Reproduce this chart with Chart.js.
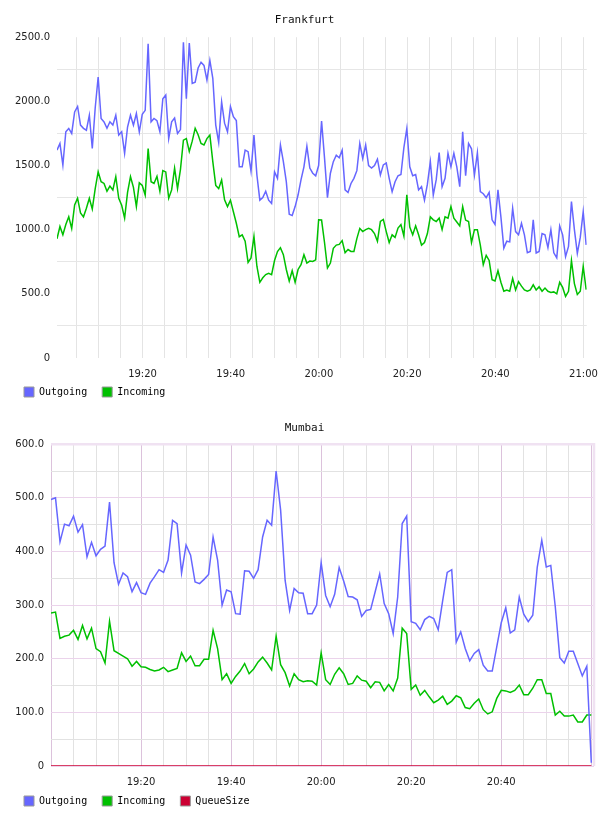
<!DOCTYPE html>
<html>
<head>
<meta charset="utf-8">
<title>Frankfurt / Mumbai</title>
<script src="https://cdn.jsdelivr.net/npm/chart.js@4.4.1/dist/chart.umd.min.js"></script>
<style>
  body{margin:0;background:#fff;}
  canvas{position:absolute;left:0;}
  #frankfurtChart{top:0;}
  #mumbaiChart{top:409px;}
</style>
</head>
<body>
<canvas id="frankfurtChart" width="608" height="407"></canvas>
<canvas id="mumbaiChart" width="608" height="407"></canvas>
<script>

// ---- data (minutes after 19:00) ----

const frankfurtStart = 0.6;
const frankfurtStep = 2 / 3;

const frankfurtOutgoing = [
  1620,1672,1504,1763,1789,1750,1918,1960,1815,1790,
  1775,1892,1633,1950,2190,1866,1840,1790,1841,1815,
  1892,1737,1763,1595,1800,1892,1815,1905,1763,1900,
  1930,2449,1841,1867,1850,1763,2020,2050,1711,1841,
  1870,1750,1780,2460,2020,2455,2140,2150,2260,2305,
  2280,2165,2320,2180,1815,1680,1996,1830,1763,1960,
  1880,1850,1491,1490,1620,1608,1455,1737,1426,1230,
  1250,1300,1230,1205,1450,1400,1660,1530,1374,1120,
  1110,1180,1270,1388,1490,1650,1480,1440,1420,1500,
  1846,1560,1250,1440,1530,1580,1560,1620,1310,1290,
  1360,1400,1460,1672,1555,1660,1500,1480,1500,1550,
  1426,1505,1520,1400,1295,1374,1420,1430,1640,1789,
  1490,1420,1430,1310,1335,1230,1355,1530,1270,1390,
  1600,1335,1400,1595,1490,1595,1490,1335,1763,1420,
  1672,1630,1426,1600,1297,1280,1250,1290,1077,1040,
  1310,1100,856,910,905,1167,985,960,1050,960,
  820,830,1077,818,830,970,960,860,1000,820,
  780,1030,960,790,870,1219,1000,815,940,1141,
  882
];

const frankfurtIncoming = [
  929,1025,960,1040,1100,1010,1193,1245,1130,1100,
  1167,1245,1160,1320,1452,1374,1360,1300,1340,1310,
  1413,1245,1190,1090,1290,1413,1330,1180,1365,1345,
  1270,1633,1374,1360,1415,1300,1460,1450,1245,1310,
  1480,1320,1470,1698,1710,1610,1690,1790,1740,1672,
  1660,1710,1737,1530,1345,1320,1388,1233,1180,1230,
  1140,1050,945,960,910,745,780,947,715,590,
  625,650,660,650,760,830,860,805,690,600,
  680,590,690,727,805,740,755,753,765,1077,
  1075,900,701,740,855,880,885,915,820,845,
  830,830,930,1010,985,1000,1010,1000,970,910,
  1064,1080,985,900,960,940,1012,1040,950,1271,
  1020,960,1030,960,880,900,970,1100,1077,1064,
  1090,1000,1100,1090,1180,1090,1060,1030,1180,1075,
  1064,900,1000,1000,880,727,800,760,610,600,
  680,590,520,530,520,620,530,595,560,530,
  520,530,570,530,555,520,545,520,510,515,
  500,590,550,480,520,760,580,495,520,714,
  533
];

const frankfurtTimeLabels = ["19:20","19:40","20:00","20:20","20:40","21:00"];

const mumbaiStart = 0;
const mumbaiStep = 1;

const mumbaiOutgoing = [
  497,500,418,451,448,466,436,450,390,417,
  392,404,410,492,379,339,360,353,325,342,
  323,320,341,353,366,361,384,458,452,360,
  412,393,343,340,348,357,427,384,300,328,
  325,284,283,364,363,350,366,427,458,449,
  550,477,346,290,331,323,322,284,284,300,
  379,318,297,320,370,345,316,315,310,279,
  290,292,325,358,303,284,247,315,452,466,
  269,266,254,273,279,275,254,309,361,366,
  231,250,219,196,210,217,188,177,177,222,
  267,295,248,254,315,283,269,281,371,421,
  371,374,297,202,192,214,214,191,168,186,
  6
];

const mumbaiIncoming = [
  285,287,238,242,244,253,236,262,237,257,
  219,213,192,270,215,210,205,200,186,195,
  185,184,180,177,179,184,176,179,182,211,
  195,205,187,187,199,199,253,219,161,172,
  154,167,177,191,172,181,194,203,192,179,
  242,189,174,149,172,161,157,159,158,151,
  211,161,152,171,183,172,152,154,168,160,
  158,146,157,156,140,152,140,164,257,247,
  143,151,132,141,129,118,123,130,115,121,
  131,127,109,107,117,125,105,97,101,126,
  141,140,137,141,151,133,133,145,161,161,
  135,135,95,102,93,93,95,82,82,95,
  95
];

const mumbaiQueueSize = [
  0,0,0,0,0,0,0,0,0,0,
  0,0,0,0,0,0,0,0,0,0,
  0,0,0,0,0,0,0,0,0,0,
  0,0,0,0,0,0,0,0,0,0,
  0,0,0,0,0,0,0,0,0,0,
  0,0,0,0,0,0,0,0,0,0,
  0,0,0,0,0,0,0,0,0,0,
  0,0,0,0,0,0,0,0,0,0,
  0,0,0,0,0,0,0,0,0,0,
  0,0,0,0,0,0,0,0,0,0,
  0,0,0,0,0,0,0,0,0,0,
  0,0,0,0,0,0,0,0,0,0,
  0
];

const mumbaiTimeLabels = ["19:20","19:40","20:00","20:20","20:40"];

// ---- helpers ----

Chart.defaults.font.family = "'DejaVu Sans', sans-serif";
Chart.defaults.font.size = 10;
Chart.defaults.color = '#222';

function toPoints(values, start, step){
  return values.map((v,i) => ({ x: start + i * step, y: v }));
}

function clock(min){
  const h = 19 + Math.floor(min / 60);
  const m = Math.round(min % 60);
  return h + ':' + String(m).padStart(2,'0');
}

function line(label, values, start, step, color){
  return {
    label: label,
    data: toPoints(values, start, step),
    borderColor: color,
    backgroundColor: color,
    borderWidth: 1.5,
    pointRadius: 0,
    tension: 0,
    fill: false
  };
}

// top + right frame of the plot (Mumbai only)
const plotFrame = {
  id: 'plotFrame',
  beforeDatasetsDraw(chart, args, opts){
    if(!opts.color) return;
    const {ctx, chartArea: a} = chart;
    ctx.save();
    ctx.strokeStyle = opts.color;
    ctx.lineWidth = 2.5;
    ctx.beginPath();
    ctx.moveTo(a.left, a.top);
    ctx.lineTo(a.right, a.top);
    ctx.lineTo(a.right, a.bottom);
    ctx.stroke();
    ctx.restore();
  }
};

function makeChart(id, cfg){

  return new Chart(document.getElementById(id), {
    type: 'line',
    data: { datasets: cfg.datasets },
    plugins: [plotFrame],
    options: {
      responsive: false,
      animation: false,
      devicePixelRatio: 1,
      parsing: false,
      layout: { padding: { left: 15, right: 14, top: 0, bottom: 0 } },
      plugins: {
        plotFrame: { color: cfg.frame },
        tooltip: { enabled: false },
        title: {
          display: true,
          text: cfg.title,
          color: '#111',
          font: { family: "'DejaVu Sans Mono', monospace", size: 11, weight: 'normal' },
          padding: cfg.titlePadding
        },
        legend: {
          position: 'bottom',
          align: 'start',
          labels: {
            boxWidth: 10,
            boxHeight: 10,
            padding: 9,
            color: '#000',
            font: { family: "'DejaVu Sans Mono', monospace", size: 10 },
            // trailing space widens the gap between items to ~15px
            generateLabels: chart =>
              Chart.defaults.plugins.legend.labels.generateLabels(chart)
              .map(item => ({ ...item, text: item.text + ' ', strokeStyle: '#999', lineWidth: 1 }))
          }
        }
      },
      scales: {
        x: {
          type: 'linear',
          min: cfg.xMin,
          max: cfg.xMax,
          border: { display: false },
          afterFit: s => { s.height = cfg.xHeight; },
          grid: {
            drawTicks: false,
            lineWidth: 1,
            color: c => (c.tick && c.tick.value >= cfg.xMin) ? cfg.xGrid(c.tick.value) : 'rgba(0,0,0,0)'
          },
          ticks: {
            stepSize: 5,
            includeBounds: false,
            autoSkip: false,
            maxRotation: 0,
            padding: 10,
            callback: v => cfg.timeLabels.includes(clock(v)) ? clock(v) : ''
          }
        },
        y: {
          min: 0,
          max: cfg.yMax,
          border: { display: false },
          afterFit: s => { s.width = cfg.yWidth; },
          grid: {
            drawTicks: false,
            lineWidth: 1,
            color: c => cfg.yGrid(c.tick.value)
          },
          ticks: {
            stepSize: cfg.yStep / 2,
            padding: 7,
            callback: v => v % cfg.yStep === 0 ? (v === 0 ? '0' : v.toFixed(1)) : ''
          }
        }
      }
    }
  });

}

// ---- Frankfurt ----

makeChart('frankfurtChart', {
  title: 'Frankfurt',
  titlePadding: { top: 14, bottom: 10 },
  datasets: [
    line('Outgoing', frankfurtOutgoing, frankfurtStart, frankfurtStep, '#6666ff'),
    line('Incoming', frankfurtIncoming, frankfurtStart, frankfurtStep, '#00c000')
  ],
  xMin: 0.6,
  xMax: 120.74,
  xHeight: 20,
  xGrid: v => '#e4e4e4',
  timeLabels: frankfurtTimeLabels,
  yMax: 2500,
  yStep: 500,
  yWidth: 42,
  yGrid: v => v % 500 === 0 ? 'rgba(0,0,0,0)' : '#e6e6e6',
  frame: null
});

// ---- Mumbai ----

makeChart('mumbaiChart', {
  title: 'Mumbai',
  titlePadding: { top: 13, bottom: 9 },
  datasets: [
    line('Outgoing', mumbaiOutgoing, mumbaiStart, mumbaiStep, '#6666ff'),
    line('Incoming', mumbaiIncoming, mumbaiStart, mumbaiStep, '#00c000'),
    line('QueueSize', mumbaiQueueSize, mumbaiStart, mumbaiStep, '#cc0033')
  ],
  xMin: 0,
  xMax: 120.6,
  xHeight: 21,
  xGrid: v => v % 20 === 0 ? '#dcc2dc' : '#e2e2e2',
  timeLabels: mumbaiTimeLabels,
  yMax: 600,
  yStep: 100,
  yWidth: 36,
  yGrid: v => v % 100 === 0 ? '#ebd3eb' : '#e2e2e2',
  frame: '#f0e2f2'
});

</script>
</body>
</html>
